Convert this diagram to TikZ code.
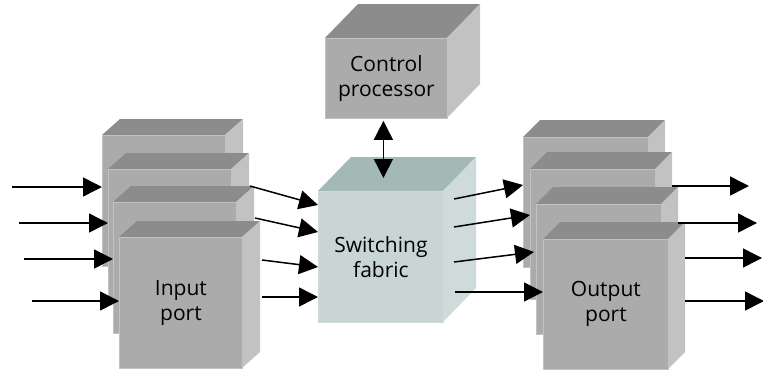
\documentclass[tikz,border=0pt]{standalone}
\usepackage{fontspec}
\setmainfont{Open Sans}
\usetikzlibrary{arrows.meta}
\definecolor{boxfront}{HTML}{ABABAB}
\definecolor{boxtop}{HTML}{8C8C8C}
\definecolor{boxside}{HTML}{C2C2C2}
\definecolor{fabfront}{HTML}{C8D5D4}
\definecolor{fabtop}{HTML}{A3B9B6}
\definecolor{fabside}{HTML}{CFDBDA}
% cube: name, x, y of front top left, width, height, depth x, depth y, colour prefix
\newcommand\drawcube[8]{%
  \fill[#8top] (#2,#3) -- ++(#6,-#7) -- ++(#4,0) -- ++(-#6,#7) -- cycle;
  \fill[#8side] (#2+#4,#3) -- ++(#6,-#7) -- ++(0,#5) -- ++(-#6,#7) -- cycle;
  \node[fill=#8front,draw=#8side,line width=.8pt,inner sep=0,anchor=north west,
    minimum width=#4pt,minimum height=#5pt] (#1) at (#2,#3) {};}

\begin{document}
\begin{tikzpicture}[x=1pt,y=-1pt,
  arr/.style={-{Triangle[length=19pt,width=19pt]},line width=1.5pt},
  lbl/.style={font=\fontsize{21}{25}\selectfont,align=center,text=black}]
\useasboundingbox (0,0) rectangle (763,370);
% ports and fabric
\foreach \i/\x/\y in {1/102/135,2/108/169,3/113/202,4/119/237}
  {\drawcube{ip\i}{\x}{\y}{123}{131}{18}{16}{box}}
\foreach \i/\x/\y in {1/523/137,2/530/169,3/536/204,4/543/239}
  {\drawcube{op\i}{\x}{\y}{125}{130}{17}{17}{box}}
\drawcube{sf}{318}{191}{125}{131}{33}{34}{fab}
\drawcube{cp}{325}{38}{122}{80}{33}{34}{box}
\node[lbl] at (ip4) {Input\\port};
\node[lbl] at (op4) {Output\\port};
\node[lbl] at (sf) {Switching\\fabric};
\node[lbl] at (cp) {Control\\processor};
% free ends
\coordinate (in1) at (12,187);\coordinate (in2) at (19,223);
\coordinate (in3) at (24,259);\coordinate (in4) at (32,301);
\coordinate (ix1) at (250,186);\coordinate (ix2) at (255,218);
\coordinate (ix3) at (262,260);\coordinate (ix4) at (262,297);
\coordinate (fx1) at (454,199);\coordinate (fx2) at (454,227);
\coordinate (fx3) at (454,262);\coordinate (fx4) at (455,292);
\coordinate (ox1) at (672,186);\coordinate (ox2) at (678,223);
\coordinate (ox3) at (685,258);\coordinate (ox4) at (685,301);
\coordinate (out1) at (749,186);\coordinate (out2) at (757,223);
\coordinate (out3) at (762,258);\coordinate (out4) at (764,301);
% connectors
\foreach \i in {1,...,4} \draw[arr] (in\i) -- (in\i -| ip\i.west);
\draw[arr] (ix1) -- ([yshift=-14pt]sf.north west);
\draw[arr] (ix2) -- ([yshift=-41pt]sf.north west);
\draw[arr] (ix3) -- ([yshift=-76pt]sf.north west);
\draw[arr] (ix4) -- ([yshift=-106pt]sf.north west);
\draw[arr] (fx1) -- ([yshift=-48pt]op1.north west);
\draw[arr] (fx2) -- ([yshift=-46pt]op2.north west);
\draw[arr] (fx3) -- ([xshift=-2pt,yshift=-48pt]op3.north west);
\draw[arr] (fx4) -- ([yshift=-53pt]op4.north west);
\foreach \i in {1,...,4} \draw[arr] (ox\i) -- (out\i);
\draw[arr,{Triangle[length=19pt,width=19pt]}-{Triangle[length=19pt,width=19pt]}]
  ([xshift=-3pt,yshift=-2pt]cp.south) -- ([xshift=2.5pt,yshift=13pt]sf.north);
\end{tikzpicture}
\end{document}
